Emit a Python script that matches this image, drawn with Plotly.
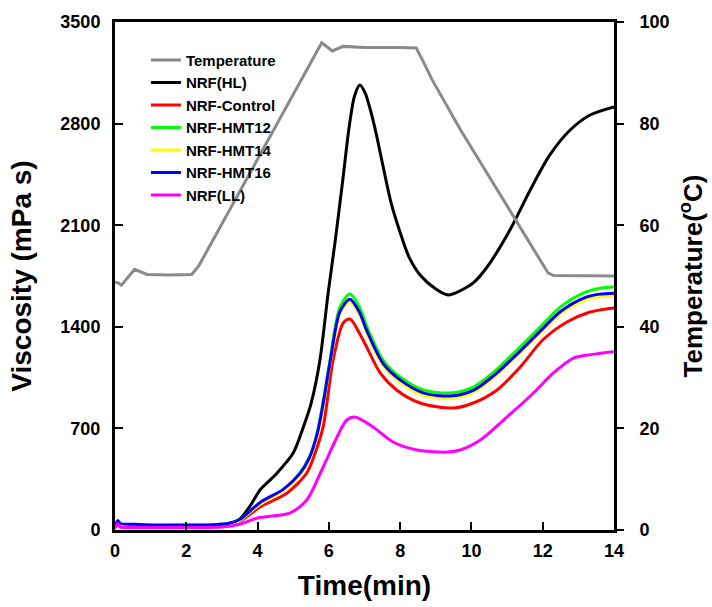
import plotly.graph_objects as go

# ---- data ----
time_temp = [0, 0.1, 0.18, 0.55, 0.9, 1.5, 2.15, 2.35, 5.8, 6.1, 6.4, 7.0, 8.0, 8.45, 8.62, 8.9, 9.7, 12.15, 12.3, 13.0, 14.0]
temperature = [48.8, 48.6, 48.2, 51.3, 50.3, 50.2, 50.3, 52.0, 95.9, 94.3, 95.2, 95.0, 95.0, 94.9, 92.6, 88.6, 78.7, 50.6, 50.1, 50.1, 50.0]

time_hl = [0, 0.08, 0.15, 0.5, 1.0, 2.0, 2.8, 3.2, 3.5, 3.8, 4.07, 4.5, 5.0, 5.3, 5.5, 5.75, 5.98, 6.17, 6.4, 6.56, 6.72, 6.87, 7.02, 7.17, 7.32, 7.5, 7.75, 8.0, 8.25, 8.56, 9.0, 9.35, 9.7, 10.05, 10.44, 11.08, 11.65, 12.2, 12.77, 13.33, 14.0]
visc_hl = [25, 55, 35, 32, 30, 30, 33, 45, 75, 170, 276, 380, 530, 720, 870, 1171, 1633, 1977, 2430, 2760, 2990, 3066, 3010, 2890, 2740, 2530, 2250, 2050, 1880, 1757, 1660, 1619, 1650, 1702, 1812, 2067, 2343, 2584, 2756, 2859, 2915]

time_ctrl = [0, 0.08, 0.15, 0.5, 1.0, 2.0, 2.8, 3.2, 3.5, 4.07, 4.83, 5.38, 5.6, 5.84, 6.12, 6.4, 6.59, 6.96, 7.44, 7.9, 8.56, 9.49, 10.05, 10.72, 11.37, 12.0, 12.68, 13.33, 14.0]
visc_ctrl = [20, 50, 35, 32, 30, 30, 32, 42, 60, 158, 255, 393, 520, 710, 1171, 1426, 1454, 1309, 1082, 965, 875, 840, 875, 965, 1123, 1309, 1433, 1502, 1530]

time_hmt = [0, 0.08, 0.15, 0.5, 1.0, 2.0, 2.8, 3.2, 3.5, 4.07, 4.72, 5.19, 5.45, 5.67, 5.85, 6.03, 6.31, 6.59, 6.85, 7.07, 7.52, 8.0, 8.65, 9.4, 10.05, 10.6, 11.28, 11.93, 12.5, 13.15, 13.6, 14.0]
visc_hmt12 = [20, 60, 40, 35, 32, 33, 35, 45, 70, 186, 276, 393, 500, 668, 900, 1171, 1536, 1626, 1540, 1399, 1171, 1054, 965, 944, 985, 1082, 1240, 1399, 1537, 1633, 1665, 1676]
visc_hmt14 = [20, 50, 35, 32, 30, 31, 33, 43, 65, 178, 268, 380, 485, 648, 870, 1135, 1490, 1572, 1488, 1352, 1132, 1018, 930, 909, 948, 1045, 1198, 1355, 1490, 1580, 1608, 1616]
visc_hmt16 = [25, 65, 45, 40, 35, 35, 37, 47, 72, 190, 280, 390, 495, 660, 885, 1150, 1505, 1590, 1505, 1370, 1148, 1034, 945, 923, 962, 1058, 1212, 1370, 1505, 1598, 1625, 1632]

time_ll = [0, 0.08, 0.15, 0.5, 1.0, 2.0, 3.0, 3.5, 4.0, 4.9, 5.38, 5.84, 6.23, 6.5, 6.73, 7.24, 7.8, 8.47, 9.32, 9.68, 10.25, 11.0, 11.74, 12.3, 12.86, 13.4, 14.0]
visc_ll = [10, 45, 20, 18, 17, 18, 20, 40, 83, 117, 207, 434, 641, 758, 778, 710, 606, 551, 537, 551, 620, 779, 944, 1082, 1185, 1210, 1228]

x_ticks = [0, 2, 4, 6, 8, 10, 12, 14]
visc_ticks = [0, 700, 1400, 2100, 2800, 3500]
temp_ticks = [0, 20, 40, 60, 80, 100]

FONT = "Arial, Liberation Sans, sans-serif"

fig = go.Figure()
fig.add_trace(go.Scatter(x=time_temp, y=temperature, name="Temperature", yaxis="y2",
                         mode="lines", line=dict(color="#8a8a8a", width=3)))
series = [
    ("NRF(HL)", time_hl, visc_hl, "#000000"),
    ("NRF-Control", time_ctrl, visc_ctrl, "#ff0000"),
    ("NRF-HMT12", time_hmt, visc_hmt12, "#00ff00"),
    ("NRF-HMT14", time_hmt, visc_hmt14, "#ffff00"),
    ("NRF-HMT16", time_hmt, visc_hmt16, "#0000ff"),
    ("NRF(LL)", time_ll, visc_ll, "#ff00ff"),
]
for name, t, v, c in series:
    fig.add_trace(go.Scatter(x=t, y=v, name=name, mode="lines",
                             line=dict(color=c, width=3, shape="spline", smoothing=0.8)))

tickfont = dict(family=FONT, size=18, color="black", weight="bold")
fig.update_layout(
    width=712, height=607,
    margin=dict(l=115, r=98, t=22, b=77, autoexpand=False),
    paper_bgcolor="white", plot_bgcolor="white",
    font=dict(family=FONT, color="black"),
    showlegend=True,
    legend=dict(x=0.062, y=0.957, xanchor="left", yanchor="top",
                bgcolor="rgba(0,0,0,0)", borderwidth=0,
                font=dict(family=FONT, size=15, color="black", weight="bold")),
    xaxis=dict(range=[0, 14], tickvals=x_ticks, ticks="inside", ticklen=8, tickwidth=2,
               tickcolor="black", showline=True, linewidth=3, linecolor="black", mirror=True,
               showgrid=False, zeroline=False, tickfont=tickfont, ticklabelstandoff=2,
               title=dict(text="Time(min)", standoff=16,
                          font=dict(family=FONT, size=28, color="black", weight="bold"))),
    yaxis=dict(range=[0, 3500], tickvals=visc_ticks, ticks="inside", ticklen=8, tickwidth=2,
               tickcolor="black", showline=True, linewidth=3, linecolor="black",
               showgrid=False, zeroline=False, tickfont=tickfont, ticklabelstandoff=8,
               title=dict(text="Viscosity (mPa s)", standoff=21,
                          font=dict(family=FONT, size=28, color="black", weight="bold"))),
    yaxis2=dict(range=[0, 100], tickvals=temp_ticks, overlaying="y", side="right",
                ticks="outside", ticklen=7, tickwidth=2, tickcolor="black",
                showline=True, linewidth=3, linecolor="black",
                showgrid=False, zeroline=False, tickfont=tickfont, ticklabelstandoff=12,
                title=dict(text="Temperature(<sup>o</sup>C)", standoff=16,
                           font=dict(family=FONT, size=26, color="black", weight="bold"))),
)

fig.write_html("out.html")
